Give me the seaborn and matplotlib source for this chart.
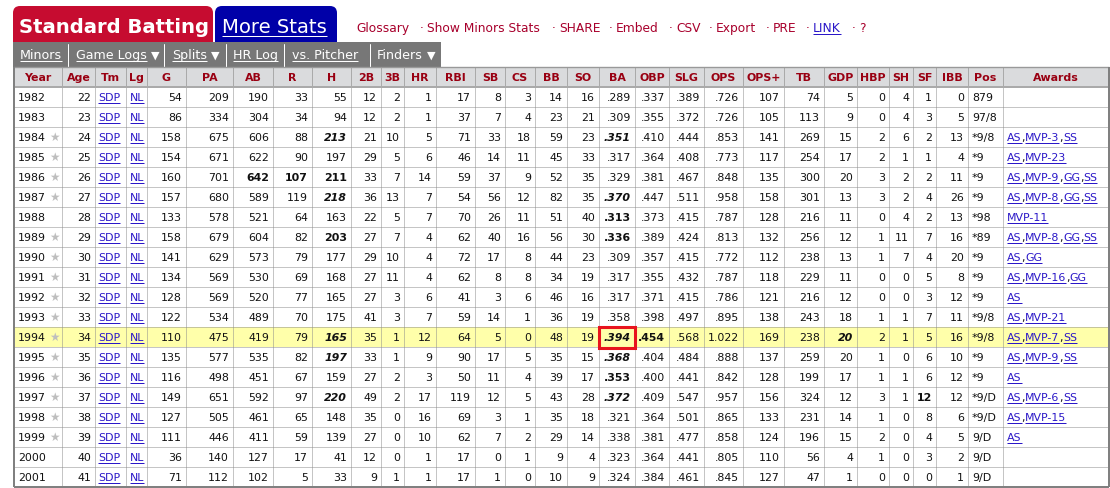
import numpy as np
import seaborn as sns
import matplotlib.pyplot as plt
from matplotlib.colors import ListedColormap
from matplotlib.patches import FancyBboxPatch, Rectangle

# table content
years = list(range(1982, 2002))
ages = list(range(22, 42))
star_years = [1984, 1985, 1986, 1987, 1989, 1990, 1991, 1992, 1993, 1994, 1995, 1996, 1997, 1998, 1999]
games = [54, 86, 158, 154, 160, 157, 133, 158, 141, 134, 128, 122, 110, 135, 116, 149, 127, 111, 36, 71]
pa = [209, 334, 675, 671, 701, 680, 578, 679, 629, 569, 569, 534, 475, 577, 498, 651, 505, 446, 140, 112]
ab = [190, 304, 606, 622, 642, 589, 521, 604, 573, 530, 520, 489, 419, 535, 451, 592, 461, 411, 127, 102]
runs = [33, 34, 88, 90, 107, 119, 64, 82, 79, 69, 77, 70, 79, 82, 67, 97, 65, 59, 17, 5]
hits = [55, 94, 213, 197, 211, 218, 163, 203, 177, 168, 165, 175, 165, 197, 159, 220, 148, 139, 41, 33]
doubles = [12, 12, 21, 29, 33, 36, 22, 27, 29, 27, 27, 41, 35, 33, 27, 49, 35, 27, 12, 9]
triples = [2, 2, 10, 5, 7, 13, 5, 7, 10, 11, 3, 3, 1, 1, 2, 2, 0, 0, 0, 1]
hr = [1, 1, 5, 6, 14, 7, 7, 4, 4, 4, 6, 7, 12, 9, 3, 17, 16, 10, 1, 1]
rbi = [17, 37, 71, 46, 59, 54, 70, 62, 72, 62, 41, 59, 64, 90, 50, 119, 69, 62, 17, 17]
sb = [8, 7, 33, 14, 37, 56, 26, 40, 17, 8, 3, 14, 5, 17, 11, 12, 3, 7, 0, 1]
cs = [3, 4, 18, 11, 9, 12, 11, 16, 8, 8, 6, 1, 0, 5, 4, 5, 1, 2, 1, 0]
bb = [14, 23, 59, 45, 52, 82, 51, 56, 44, 34, 46, 36, 48, 35, 39, 43, 35, 29, 9, 10]
so = [16, 21, 23, 33, 35, 35, 40, 30, 23, 19, 16, 19, 19, 15, 17, 28, 18, 14, 4, 9]
ba = [".289", ".309", ".351", ".317", ".329", ".370", ".313", ".336", ".309", ".317",
      ".317", ".358", ".394", ".368", ".353", ".372", ".321", ".338", ".323", ".324"]
obp = [".337", ".355", ".410", ".364", ".381", ".447", ".373", ".389", ".357", ".355",
       ".371", ".398", ".454", ".404", ".400", ".409", ".364", ".381", ".364", ".384"]
slg = [".389", ".372", ".444", ".408", ".467", ".511", ".415", ".424", ".415", ".432",
       ".415", ".497", ".568", ".484", ".441", ".547", ".501", ".477", ".441", ".461"]
ops = [".726", ".726", ".853", ".773", ".848", ".958", ".787", ".813", ".772", ".787",
       ".786", ".895", "1.022", ".888", ".842", ".957", ".865", ".858", ".805", ".845"]
ops_plus = [107, 105, 141, 117, 135, 158, 128, 132, 112, 118, 121, 138, 169, 137, 128, 156, 133, 124, 110, 127]
tb = [74, 113, 269, 254, 300, 301, 216, 256, 238, 229, 216, 243, 238, 259, 199, 324, 231, 196, 56, 47]
gdp = [5, 9, 15, 17, 20, 13, 11, 12, 13, 11, 12, 18, 20, 20, 17, 12, 14, 15, 4, 1]
hbp = [0, 0, 2, 2, 3, 3, 0, 1, 1, 0, 0, 1, 2, 1, 1, 3, 1, 2, 1, 0]
sh = [4, 4, 6, 1, 2, 2, 4, 11, 7, 0, 0, 1, 1, 0, 1, 1, 0, 0, 0, 0]
sf = [1, 3, 2, 1, 2, 4, 2, 7, 4, 5, 3, 7, 5, 6, 6, 12, 8, 4, 3, 0]
ibb = [0, 5, 13, 4, 11, 26, 13, 16, 20, 8, 12, 11, 16, 10, 12, 12, 6, 5, 2, 1]
pos = ["879", "97/8", "*9/8", "*9", "*9", "*9", "*98", "*89", "*9", "*9",
       "*9", "*9/8", "*9/8", "*9", "*9", "*9/D", "*9/D", "9/D", "9/D", "9/D"]
awards = ["", "", "AS,MVP-3,SS", "AS,MVP-23", "AS,MVP-9,GG,SS", "AS,MVP-8,GG,SS", "MVP-11",
          "AS,MVP-8,GG,SS", "AS,GG", "AS,MVP-16,GG", "AS", "AS,MVP-21", "AS,MVP-7,SS",
          "AS,MVP-9,SS", "AS", "AS,MVP-6,SS", "AS,MVP-15", "AS", "", ""]

headers = ["Year", "Age", "Tm", "Lg", "G", "PA", "AB", "R", "H", "2B", "3B", "HR", "RBI", "SB", "CS",
           "BB", "SO", "BA", "OBP", "SLG", "OPS", "OPS+", "TB", "GDP", "HBP", "SH", "SF", "IBB", "Pos", "Awards"]
number_cols = {"G": games, "PA": pa, "AB": ab, "R": runs, "H": hits, "2B": doubles, "3B": triples,
               "HR": hr, "RBI": rbi, "SB": sb, "CS": cs, "BB": bb, "SO": so, "BA": ba, "OBP": obp,
               "SLG": slg, "OPS": ops, "OPS+": ops_plus, "TB": tb, "GDP": gdp, "HBP": hbp, "SH": sh,
               "SF": sf, "IBB": ibb}

bold_cells = [(1986, "AB"), (1986, "R"), (1986, "H"), (1988, "BA"), (1989, "H"), (1989, "BA"),
              (1994, "OBP"), (1996, "BA"), (1997, "SF")]
bold_italic_cells = [(1984, "H"), (1984, "BA"), (1987, "H"), (1987, "BA"), (1994, "H"), (1994, "BA"),
                     (1994, "GDP"), (1995, "H"), (1995, "BA"), (1997, "H"), (1997, "BA")]
highlight_year = 1994

sub_nav = ["Minors", "Game Logs", "Splits", "HR Log", "vs. Pitcher", "Finders"]
top_links = ["Glossary", "Show Minors Stats", "SHARE", "Embed", "CSV", "Export", "PRE", "LINK", "?"]

# layout, in pixels of the screenshot
col_edges = np.array([14, 62, 95, 126, 147, 186, 233, 273, 312, 351, 381, 404, 436, 475, 505, 535, 567,
                      599, 635, 669, 704, 743, 784, 824, 857, 889, 913, 936, 968, 1003, 1109])
TABLE_TOP = 67
ROW_H = 20
W, H = 1110, 488

RED = "#C60C30"
BLUE_TAB = "#0000A8"
NAV_GREY = "#777777"
LINK_BLUE = "#2A17C8"
LINK_RED = "#A8002C"
HEAD_RED = "#990012"
TEXT = "#111111"
BODY_SIZE = 7.9


def draw_link(ax, x, y, label, color=LINK_BLUE, gap=2.0, **kw):
    """Text with an underline under it, returns where it ends in data coords."""
    t = ax.text(x, y, label, color=color, va="baseline", ha="left", **kw)
    box = t.get_window_extent(fig.canvas.get_renderer())
    inv = ax.transData.inverted()
    px, py = ax.transData.transform((x, y))
    x0, y0 = inv.transform((box.x0, py - gap))
    x1, _ = inv.transform((box.x1, py - gap))
    ax.plot([x0, x1], [y0, y0], color=color, lw=0.72, solid_capstyle="butt", snap=True, zorder=6)
    return x1


sns.set_theme(style="white")
plt.rcParams["font.family"] = ["DejaVu Sans"]

fig = plt.figure(figsize=(W / 100, H / 100), dpi=100)

# page level things live in pixel coordinates
page = fig.add_axes([0, 0, 1, 1])
page.set_xlim(0, W)
page.set_ylim(H, 0)
page.axis("off")

for x0, x1, color in [(13, 213, RED), (215, 337, BLUE_TAB)]:
    page.add_patch(FancyBboxPatch((x0, 6), x1 - x0, 46, boxstyle="round,pad=0,rounding_size=7",
                                  mutation_aspect=1, fc=color, ec="none", zorder=1))
page.add_patch(Rectangle((13, 42), 428, 25, fc=NAV_GREY, ec="none", zorder=2))

page.text(19, 33, "Standard Batting", color="white", fontsize=14.1, fontweight="bold", va="baseline", zorder=3)
draw_link(page, 222, 33, "More Stats", color="white", gap=3, fontsize=14.1, zorder=3)

# sub nav strip
nav_x = [20, 76, 172, 233, 292, 377]
nav_sep = [68, 164, 226, 284, 370]
for x in nav_sep:
    page.plot([x, x], [44, 67], color="white", lw=0.72, snap=True, zorder=3)
for label, x in zip(sub_nav, nav_x):
    if label == "Finders":
        t = page.text(x, 59, label, color="white", fontsize=9.1, va="baseline", zorder=3)
        end = t.get_window_extent(fig.canvas.get_renderer()).x1
    else:
        end = draw_link(page, x, 59, label, color="white", fontsize=9.1, zorder=3)
    if label in ("Game Logs", "Splits", "Finders"):
        page.text(end + 4, 59, "▼", color="white", fontsize=8, va="baseline", zorder=3)

# red links row
link_x = [356, 427, 559, 616, 676, 716, 773, 813, 859]
for label, x in zip(top_links, link_x):
    if label == "LINK":
        draw_link(page, x, 32, label, fontsize=8.8)
    else:
        page.text(x, 32, label, color=LINK_RED, fontsize=8.8, va="baseline")
    if label != "Glossary":
        page.text(x - 7, 32, "·", color=LINK_RED, fontsize=8.8, va="baseline")

# the table body is a heatmap with one column per pixel so the columns can have their own widths
table = fig.add_axes([col_edges[0] / W, 1 - (TABLE_TOP + ROW_H * 21) / H,
                      (col_edges[-1] - col_edges[0]) / W, ROW_H * 21 / H])
fill = np.zeros((21, col_edges[-1] - col_edges[0]))
fill[0, :] = 2
fill[years.index(highlight_year) + 1, :] = 1
sns.heatmap(fill, ax=table, cmap=ListedColormap(["white", "#FFFFAA", "#DADBDD"]), vmin=0, vmax=2,
            cbar=False, xticklabels=False, yticklabels=False)
table.set_facecolor("white")
x_edge = col_edges - col_edges[0]

# grid lines, the dotted ones need butt caps or the dots run together
dotted = dict(color="#8C8C8C", lw=0.72, linestyles=[(0, (1, 1))], capstyle="butt", snap=True)
table.vlines(x_edge[1:-1], 1, 21, **dotted)
table.vlines(x_edge[1:-1], 0, 1, color="#AAAAAA", lw=0.72, snap=True)
table.hlines(np.arange(2, 21), 0, x_edge[-1], **dotted)
table.hlines(1, 0, x_edge[-1], color="#AAAAAA", lw=1.44, snap=True)
table.hlines(0, 0, x_edge[-1], color="#999999", lw=1.0, snap=True, clip_on=False)
table.hlines(21, 0, x_edge[-1], color="#808080", lw=1.44, snap=True, clip_on=False)
table.vlines([0, x_edge[-1]], 0, 21, color="#808080", lw=1.44, snap=True, clip_on=False)

base = 0.7  # baseline inside a row, row units


def draw_cell(col, row, label, ha="right", weight="normal", style="normal", color=TEXT):
    i = headers.index(col)
    if ha == "right":
        x = x_edge[i + 1] - 4
    elif ha == "left":
        x = x_edge[i] + 4
    else:
        x = (x_edge[i] + x_edge[i + 1]) / 2
    table.text(x, row + base, str(label), ha=ha, va="baseline", fontsize=BODY_SIZE,
               fontweight=weight, fontstyle=style, color=color, zorder=5)


for i, label in enumerate(headers):
    table.text((x_edge[i] + x_edge[i + 1]) / 2, base - 0.02, label, ha="center", va="baseline",
               fontsize=BODY_SIZE, fontweight="bold", color=HEAD_RED, zorder=5)

for r, year in enumerate(years):
    row = r + 1
    draw_cell("Year", row, year, ha="left")
    if year in star_years:
        table.text(x_edge[0] + 40, row + base, "★", ha="center", va="baseline", fontsize=8.5, color="#BEBEBE", zorder=5)
    draw_cell("Age", row, ages[r])
    for col in ("Tm", "Lg"):
        i = headers.index(col)
        label = "SDP" if col == "Tm" else "NL"
        width = 24.5 if col == "Tm" else 14
        x = (x_edge[i] + x_edge[i + 1]) / 2 - width / 2
        draw_link(table, x, row + base, label, fontsize=BODY_SIZE, zorder=5)
    for col, values in number_cols.items():
        weight, style = "normal", "normal"
        if (year, col) in bold_cells:
            weight = "bold"
        if (year, col) in bold_italic_cells:
            weight, style = "bold", "italic"
        draw_cell(col, row, values[r], weight=weight, style=style)
    draw_cell("Pos", row, pos[r], ha="left")
    x = x_edge[headers.index("Awards")] + 4
    parts = awards[r].split(",") if awards[r] else []
    for k, part in enumerate(parts):
        x = draw_link(table, x, row + base, part, fontsize=BODY_SIZE, zorder=5)
        if k < len(parts) - 1:
            t = table.text(x, row + base, ",", fontsize=BODY_SIZE, color=TEXT, va="baseline", zorder=5)
            x = table.transData.inverted().transform((t.get_window_extent(fig.canvas.get_renderer()).x1, 0))[0]

# red box around the league leading average
ba_i = headers.index("BA")
hi_row = years.index(highlight_year) + 1
table.add_patch(Rectangle((x_edge[ba_i], hi_row), x_edge[ba_i + 1] - x_edge[ba_i], 1.05, fill=False,
                          ec="#E8141E", lw=2.2, zorder=7, clip_on=False))

fig.savefig("out.png", dpi=100)
